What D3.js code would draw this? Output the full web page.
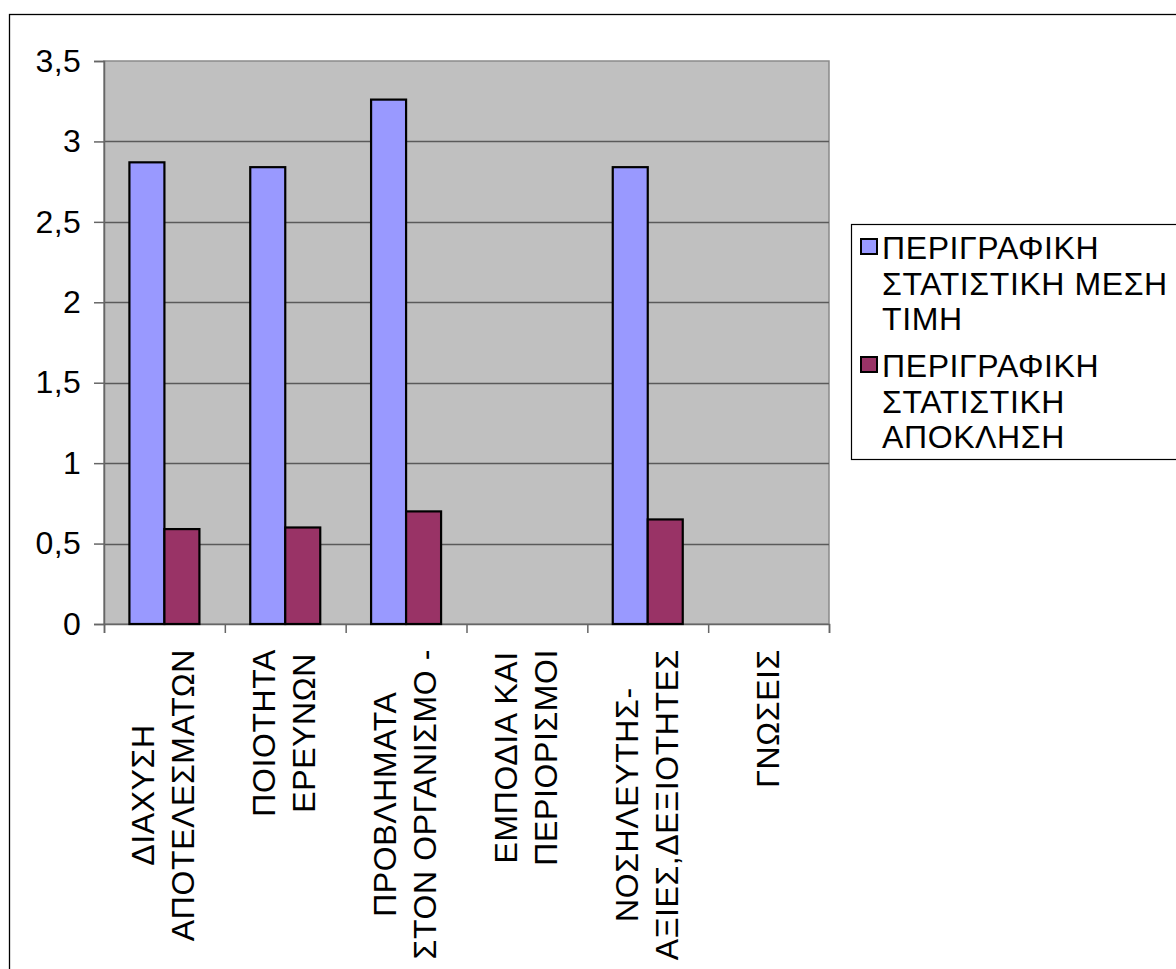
<!DOCTYPE html>
<html><head><meta charset="utf-8">
<script src="https://cdn.jsdelivr.net/npm/d3@7"></script>
<style>body{margin:0;background:#fff;}svg{display:block;font-family:"Liberation Sans",Arial,sans-serif;}</style>
</head><body>
<svg id="chart" width="1176" height="969"></svg>
<script>
const categories = [
  ["ΔΙΑΧΥΣΗ","ΑΠΟΤΕΛΕΣΜΑΤΩΝ"],
  ["ΠΟΙΟΤΗΤΑ","ΕΡΕΥΝΩΝ"],
  ["ΠΡΟΒΛΗΜΑΤΑ","ΣΤΟΝ ΟΡΓΑΝΙΣΜΟ -"],
  ["ΕΜΠΟΔΙΑ ΚΑΙ","ΠΕΡΙΟΡΙΣΜΟΙ"],
  ["ΝΟΣΗΛΕΥΤΗΣ-","ΑΞΙΕΣ,ΔΕΞΙΟΤΗΤΕΣ"],
  ["ΓΝΩΣΕΙΣ"]
];
const meanValues = [2.87, 2.84, 3.26, null, 2.84, null];
const devValues  = [0.59, 0.60, 0.70, null, 0.65, null];
const seriesNames = [
  ["ΠΕΡΙΓΡΑΦΙΚΗ","ΣΤΑΤΙΣΤΙΚΗ ΜΕΣΗ","ΤΙΜΗ"],
  ["ΠΕΡΙΓΡΑΦΙΚΗ","ΣΤΑΤΙΣΤΙΚΗ","ΑΠΟΚΛΗΣΗ"]
];
const seriesColors = ["#9999FF", "#993366"];
const yTicks = [0, 0.5, 1, 1.5, 2, 2.5, 3, 3.5];

const svg = d3.select("#chart");
const plot = {left:104, right:829, top:61, bottom:624};
const FS = 32, LS = 0.6;

// outer frame
svg.append("rect").attr("x",9.5).attr("y",14.5).attr("width",1300).attr("height",1100)
  .attr("fill","#fff").attr("stroke","#000").attr("stroke-width",1.3);

const ids = categories.map((d,i)=>i);
const x = d3.scaleBand().domain(ids).range([plot.left, plot.right]);
const xs = d3.scaleBand().domain([0,1]).range([0, 70]);
const y = d3.scaleLinear().domain([0,3.5]).range([plot.bottom, plot.top]);

// plot background
svg.append("rect").attr("x",plot.left).attr("y",plot.top)
  .attr("width",plot.right-plot.left).attr("height",plot.bottom-plot.top)
  .attr("fill","#C0C0C0").attr("stroke","#8a8a8a").attr("stroke-width",1.5);

// gridlines
svg.append("g").selectAll("line").data(yTicks.filter(t=>t>0 && t<3.5)).join("line")
  .attr("x1",plot.left).attr("x2",plot.right)
  .attr("y1",d=>Math.round(y(d))+0.5).attr("y2",d=>Math.round(y(d))+0.5)
  .attr("stroke","#5a5a5a").attr("stroke-width",1.3);

// y axis
const yAxis = d3.axisLeft(y).tickValues(yTicks).tickSize(10).tickPadding(13)
  .tickFormat(d=>d3.format("")(d).replace(".",","));
const gy = svg.append("g").attr("transform",`translate(${plot.left},0)`).call(yAxis);
gy.select(".domain").attr("stroke","#666").attr("stroke-width",1.5);
gy.selectAll(".tick line").attr("stroke","#666").attr("stroke-width",1.5);
gy.selectAll(".tick text").attr("font-size",FS).attr("fill","#000").attr("letter-spacing",0.3)
  .attr("font-family","Liberation Sans, Arial, sans-serif");

// x axis
const xAxis = d3.axisBottom(d3.scaleLinear().domain([0,6]).range([plot.left,plot.right]))
  .tickValues([0,1,2,3,4,5,6]).tickSize(9).tickFormat("");
const gx = svg.append("g").attr("transform",`translate(0,${plot.bottom})`).call(xAxis);
gx.select(".domain").attr("stroke","#666").attr("stroke-width",1.5);
gx.selectAll(".tick line").attr("stroke","#666").attr("stroke-width",1.5);

// bars
const series = [meanValues, devValues];
series.forEach((vals, si) => {
  svg.append("g").selectAll("rect").data(vals.map((v,i)=>({v,i})).filter(d=>d.v!=null)).join("rect")
    .attr("x", d => x(d.i) + (x.bandwidth()-70)/2 + xs(si))
    .attr("y", d => y(d.v))
    .attr("width", xs.bandwidth())
    .attr("height", d => y(0) - y(d.v))
    .attr("fill", seriesColors[si]).attr("stroke","#000").attr("stroke-width",2.2);
});

// x labels (rotated)
const lineGap = 40;
categories.forEach((lines, i) => {
  const cx = x(i) + x.bandwidth()/2;
  const g = svg.append("g");
  const texts = lines.map((l, li) => {
    const off = (li - (lines.length-1)/2) * lineGap;
    return g.append("text").text(l).attr("font-size",FS).attr("fill","#000")
      .attr("letter-spacing",LS).attr("text-anchor","middle").attr("data-off",off);
  });
  const maxLen = d3.max(texts, t => t.node().getComputedTextLength());
  const cy = 649 + maxLen/2;
  texts.forEach(t => {
    const off = +t.attr("data-off");
    t.attr("transform",`translate(${cx + off + 10},${cy}) rotate(-90)`);
  });
});

// legend
const lg = svg.append("g");
lg.append("rect").attr("x",851.5).attr("y",224.5).attr("width",400).attr("height",235)
  .attr("fill","#fff").attr("stroke","#000").attr("stroke-width",1.2);
const legLH = 35.5;
const itemTop = [259, 377];
seriesNames.forEach((lines, si) => {
  lg.append("rect").attr("x",861).attr("y",itemTop[si]-20).attr("width",16).attr("height",15)
    .attr("fill",seriesColors[si]).attr("stroke","#000").attr("stroke-width",2);
  lines.forEach((l, li) => {
    lg.append("text").attr("x",882).attr("y",itemTop[si] + li*legLH)
      .attr("font-size",FS).attr("letter-spacing",LS).attr("fill","#000").text(l);
  });
});
</script>
</body></html>
